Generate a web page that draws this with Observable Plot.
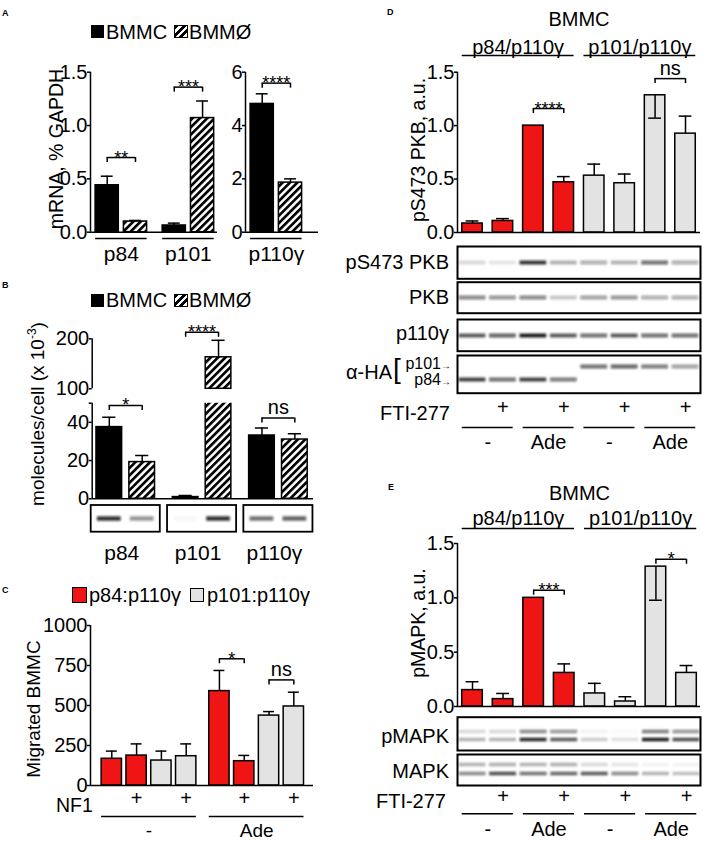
<!DOCTYPE html>
<html><head><meta charset="utf-8">
<script src="https://cdn.jsdelivr.net/npm/d3@7"></script>
<script src="https://cdn.jsdelivr.net/npm/@observablehq/plot@0.6"></script>
<style>
html,body{margin:0;padding:0;background:#fff;}
#fig{position:relative;width:703px;height:841px;overflow:hidden;font-family:"Liberation Sans",Arial,Helvetica,sans-serif;color:#000;background:#fff;}
#fig > svg{position:absolute;left:0;top:0;}
.lbl{position:absolute;white-space:nowrap;line-height:1;}
.lbl sup{font-size:12px;line-height:0;vertical-align:8px;}
.leg{position:absolute;display:flex;align-items:center;white-space:nowrap;font-size:20px;line-height:1;height:20px;}
.sw{display:inline-block;box-sizing:border-box;border:1.5px solid #000;}
</style></head><body><div id="fig"></div>
<script>
// ================= DATA =================
const cellTypes = ["BMMC", "BMMØ"];
const complexes = ["p84:p110γ", "p101:p110γ"];

// Panel A – mRNA, % GAPDH
const mrnaGene = ["p84", "p84", "p101", "p101", "p110γ", "p110γ"];
const mrnaCell = ["BMMC", "BMMØ", "BMMC", "BMMØ", "BMMC", "BMMØ"];
const mrnaMean = [0.44, 0.10, 0.063, 1.07, 4.81, 1.86];
const mrnaErr  = [0.085, 0.01, 0.022, 0.16, 0.38, 0.14];
const mrnaSigGene  = ["p84", "p101", "p110γ"];
const mrnaSigLabel = ["**", "***", "****"];
const mrnaSigY     = [0.70, 1.36, 5.59];
const mrnaTicksLow  = [0, 0.5, 1.0, 1.5];
const mrnaTicksHigh = [0, 2, 4, 6];

// Panel B – molecules/cell (x 10^-3)
const molGene = ["p84", "p84", "p101", "p101", "p110γ", "p110γ"];
const molCell = ["BMMC", "BMMØ", "BMMC", "BMMØ", "BMMC", "BMMØ"];
const molMean = [37.5, 19.2, 0.9, 163, 33.1, 31.0];
const molErr  = [5.2, 3.4, 0.8, 34, 3.9, 3.0];
const molBlot = [0.85, 0.45, 0.03, 0.85, 0.6, 0.65];
const molSigGene  = ["p84", "p101", "p110γ"];
const molSigLabel = ["*", "****", "ns"];
const molSigY     = [48.8, 213, 42.3];
const molTicksLow  = [0, 20, 40, 50];
const molTicksHigh = [100, 200];

// Panel C – Migrated BMMC
const migComplex = ["p84:p110γ", "p84:p110γ", "p101:p110γ", "p101:p110γ", "p84:p110γ", "p84:p110γ", "p101:p110γ", "p101:p110γ"];
const migStim = ["-", "-", "-", "-", "Ade", "Ade", "Ade", "Ade"];
const migNF1  = ["", "+", "", "+", "", "+", "", "+"];
const migMean = [167, 187, 156, 183, 590, 152, 437, 494];
const migErr  = [48, 73, 59, 77, 129, 36, 25, 89];
const migSigA = [4, 6];
const migSigB = [5, 7];
const migSigLabel = ["*", "ns"];
const migSigY = [792, 660];
const migTicks = [0, 250, 500, 750, 1000];

// Panel D – pS473 PKB
const pkbTitle = "BMMC";
const pkbComplex = ["p84/p110γ", "p84/p110γ", "p84/p110γ", "p84/p110γ", "p101/p110γ", "p101/p110γ", "p101/p110γ", "p101/p110γ"];
const pkbStim = ["-", "-", "Ade", "Ade", "-", "-", "Ade", "Ade"];
const pkbFTI  = ["", "+", "", "+", "", "+", "", "+"];
const pkbMean = [0.084, 0.108, 1.0, 0.47, 0.532, 0.461, 1.284, 0.925];
const pkbErr  = [0.024, 0.022, 0, 0.053, 0.108, 0.086, -0.214, 0.164];
const pkbSigA = [2, 6];
const pkbSigB = [3, 7];
const pkbSigLabel = ["****", "ns"];
const pkbSigY = [1.16, 1.44];
const pkbTicks = [0, 0.5, 1.0, 1.5];
const blotPS473 = [0.15, 0.10, 0.85, 0.30, 0.35, 0.30, 0.60, 0.35];
const blotPKB   = [0.50, 0.45, 0.50, 0.22, 0.40, 0.45, 0.35, 0.35];
const blotP110  = [0.70, 0.65, 0.95, 0.70, 0.60, 0.70, 0.60, 0.60];
const blotHA101 = [0, 0, 0, 0, 0.60, 0.65, 0.55, 0.40];
const blotHA84  = [0.80, 0.60, 0.80, 0.55, 0, 0, 0, 0];

// Panel E – pMAPK
const mapkTitle = "BMMC";
const mapkComplex = ["p84/p110γ", "p84/p110γ", "p84/p110γ", "p84/p110γ", "p101/p110γ", "p101/p110γ", "p101/p110γ", "p101/p110γ"];
const mapkStim = ["-", "-", "Ade", "Ade", "-", "-", "Ade", "Ade"];
const mapkFTI  = ["", "+", "", "+", "", "+", "", "+"];
const mapkMean = [0.151, 0.068, 1.0, 0.309, 0.12, 0.046, 1.287, 0.309];
const mapkErr  = [0.077, 0.052, 0, 0.083, 0.093, 0.044, -0.309, 0.068];
const mapkSigA = [2, 6];
const mapkSigB = [3, 7];
const mapkSigLabel = ["***", "*"];
const mapkSigY = [1.07, 1.355];
const mapkTicks = [0, 0.5, 1.0, 1.5];
const blotPMAPKup  = [0.15, 0.15, 0.50, 0.45, 0.05, 0.02, 0.55, 0.45];
const blotPMAPKlow = [0.30, 0.30, 0.90, 0.70, 0.20, 0.12, 0.95, 0.75];
const blotMAPKup   = [0.30, 0.35, 0.30, 0.35, 0.15, 0.10, 0.05, 0.05];
const blotMAPKlow  = [0.50, 0.75, 0.60, 0.65, 0.70, 0.50, 0.30, 0.25];

// ================= HELPERS =================
const W = 703, H = 841, SW = 1.5;
const FONT = '"Liberation Sans", Arial, Helvetica, sans-serif';
const RED = "#f01515", GREY = "#e3e3e3";
const HATCH_CSS = "repeating-linear-gradient(135deg,#000 0 2.6px,#fff 2.6px 5.2px)";
const fig = document.getElementById("fig");

const defs = d3.select(fig).append("svg").attr("width", 0).attr("height", 0).append("defs");
const pat = defs.append("pattern").attr("id", "hatch").attr("patternUnits", "userSpaceOnUse")
  .attr("width", 5.2).attr("height", 5.2).attr("patternTransform", "rotate(45)");
pat.append("rect").attr("width", 5.2).attr("height", 5.2).attr("fill", "#fff");
pat.append("rect").attr("width", 2.7).attr("height", 5.2).attr("fill", "#000");
defs.append("filter").attr("id", "blur").attr("filterUnits", "userSpaceOnUse")
  .attr("x", 0).attr("y", 0).attr("width", W).attr("height", H)
  .append("feGaussianBlur").attr("stdDeviation", 1.2);

function plotAt(box, opts) {
  const [x0, x1, y0, y1] = box;
  const svg = Plot.plot({
    width: W, height: H,
    marginLeft: x0, marginRight: W - x1, marginTop: y0, marginBottom: H - y1,
    style: {background: "transparent", fontFamily: FONT, fontSize: "20px", color: "black", overflow: "visible"},
    ...opts
  });
  svg.querySelectorAll('[aria-description="band"]').forEach(g => g.setAttribute("filter", "url(#blur)"));
  fig.appendChild(svg);
  return svg;
}
function layout(x0, x1, cx0, step, half, cap) {
  return {x0, x1, half, cap, domain: [(x0 - cx0) / step, (x1 - cx0) / step]};
}
function rowsFrom(cols, groupKey, gap, fillOf) {
  const keys = Object.keys(cols), n = cols[keys[0]].length;
  let g = -1, prev;
  return d3.range(n).map(i => {
    const r = {};
    keys.forEach(k => r[k] = cols[k][i]);
    if (r[groupKey] !== prev) { g++; prev = r[groupKey]; }
    r.slot = i + g * gap;
    r.fill = fillOf(r);
    return r;
  });
}
function pick(cols, keep) {
  const out = {};
  for (const k in cols) out[k] = cols[k].filter((_, i) => keep(i));
  return out;
}
function spansOf(rows, key, half) {
  const out = [];
  rows.forEach(r => {
    const last = out[out.length - 1];
    if (last && last.label === r[key]) last.to = r.slot;
    else out.push({label: r[key], from: r.slot, to: r.slot});
  });
  out.forEach(s => { s.x1 = s.from - half; s.x2 = s.to + half; s.mid = (s.from + s.to) / 2; });
  return out;
}
function barMarks(rows, L, {clip = false, base = 0} = {}) {
  const fills = [...new Set(rows.map(d => d.fill))];
  const err = rows.filter(d => d.err);
  return [
    ...fills.map(f => Plot.rectY(rows.filter(d => d.fill === f), {
      x1: d => d.slot - L.half, x2: d => d.slot + L.half, y1: base, y2: "mean",
      fill: f, stroke: "black", strokeWidth: SW, clip})),
    Plot.ruleX(err, {x: "slot", y1: "mean", y2: d => d.mean + d.err, stroke: "black", strokeWidth: SW, clip}),
    Plot.ruleY(err, {x1: d => d.slot - L.cap, x2: d => d.slot + L.cap, y: d => d.mean + d.err, stroke: "black", strokeWidth: SW, clip})
  ];
}
function yAxisMarks(L, ticks, fmt, y1, y2) {
  return [
    Plot.axisY({ticks, tickFormat: fmt, tickSize: 3, tickPadding: 0, fontSize: 20, strokeWidth: SW, label: null}),
    Plot.ruleX([L.domain[0]], {y1, y2, strokeWidth: SW})
  ];
}
function sigByGroup(rows, key, groups, labels, ys) {
  return groups.map((g, i) => {
    const rs = rows.filter(r => r[key] === g);
    return rs.length ? {xa: rs[0].slot, xb: rs[rs.length - 1].slot, label: labels[i], y: ys[i]} : null;
  }).filter(Boolean);
}
function sigByIndex(rows, A, B, labels, ys) {
  return A.map((a, i) => ({xa: rows[a].slot, xb: rows[B[i]].slot, label: labels[i], y: ys[i]}));
}
function bracketMarks(sigs) {
  const stars = sigs.filter(s => s.label !== "ns"), ns = sigs.filter(s => s.label === "ns");
  return [
    Plot.ruleY(sigs, {x1: "xa", x2: "xb", y: "y", strokeWidth: SW}),
    Plot.ruleX(sigs, {x: "xa", y1: "y", y2: "y", insetBottom: -5, strokeWidth: SW}),
    Plot.ruleX(sigs, {x: "xb", y1: "y", y2: "y", insetBottom: -5, strokeWidth: SW}),
    Plot.text(stars, {x: s => (s.xa + s.xb) / 2, y: "y", text: "label", fontSize: 18, lineAnchor: "bottom", dy: 6}),
    Plot.text(ns, {x: s => (s.xa + s.xb) / 2, y: "y", text: "label", fontSize: 20, lineAnchor: "bottom", dy: -4})
  ];
}
function groupLabels(spans, dyLine, dyText, lineAnchor = "top", fontSize = 20) {
  return [
    Plot.ruleY(spans, {x1: "x1", x2: "x2", y: 0, dy: dyLine, strokeWidth: SW}),
    Plot.text(spans, {x: "mid", text: "label", frameAnchor: "bottom", lineAnchor, dy: dyText, fontSize})
  ];
}
function topLabels(rows, L, ymax, title, dyTitle, dyLab, dyLine) {
  const cs = spansOf(rows, "complex", L.half);
  const all = d3.mean(rows, r => r.slot);
  return [
    Plot.text([title], {x: all, text: d => d, frameAnchor: "top", dy: dyTitle, fontSize: 20}),
    Plot.text(cs, {x: "mid", text: "label", frameAnchor: "top", dy: dyLab, fontSize: 20}),
    Plot.ruleY(cs, {x1: "x1", x2: "x2", y: ymax, dy: dyLine, strokeWidth: SW})
  ];
}
function ftiLabels(rows, L, dyPlus, dyLine, dyText) {
  return [
    Plot.text(rows.filter(r => r.fti), {x: "slot", text: "fti", frameAnchor: "bottom", dy: dyPlus, fontSize: 20}),
    ...groupLabels(spansOf(rows, "stim", L.half), dyLine, dyText, "middle")
  ];
}
function blot(L, box, rowNames, series, rows, {half = 0.44, w = 4, padding = 1, align = 0.5} = {}) {
  const bands = [];
  series.forEach((vals, k) => vals.forEach((v, i) => { if (v > 0) bands.push({slot: rows[i].slot, row: rowNames[k], v}); }));
  plotAt(box, {
    x: {domain: L.domain, axis: null},
    y: {type: "point", domain: rowNames, padding: rowNames.length > 1 ? padding : 0.5, align, axis: null},
    opacity: {domain: [0, 1]},
    marks: [
      Plot.ruleY(bands, {x1: d => d.slot - half, x2: d => d.slot + half, y: "row", stroke: "#111",
        strokeOpacity: "v", strokeWidth: w, ariaDescription: "band"}),
      Plot.frame({stroke: "black", strokeWidth: 2})
    ]
  });
}
function label(html, x, y, {size = 20, anchor = "start", rotate = 0, weight = "normal"} = {}) {
  const d = document.createElement("div");
  d.className = "lbl"; d.innerHTML = html;
  Object.assign(d.style, {left: x + "px", top: y + "px", fontSize: size + "px", fontWeight: weight});
  const tx = anchor === "start" ? "0%" : anchor === "middle" ? "-50%" : "-100%";
  d.style.transform = `translate(${tx},-50%)` + (rotate ? ` rotate(${rotate}deg)` : "");
  fig.appendChild(d);
}
function legend(x, yc, items) {
  const d = document.createElement("div");
  d.className = "leg"; d.style.left = x + "px"; d.style.top = (yc - 10) + "px";
  items.forEach(it => {
    const s = document.createElement("span"); s.className = "sw";
    Object.assign(s.style, {width: it.w + "px", height: it.h + "px", background: it.bg,
      marginLeft: (it.ml || 0) + "px", marginRight: (it.mr ?? 2) + "px"});
    d.appendChild(s);
    const t = document.createElement("span"); t.textContent = it.text; d.appendChild(t);
  });
  fig.appendChild(d);
}
const cellFill = r => r.cell === "BMMC" ? "black" : "url(#hatch)";
const complexFill = r => r.complex.startsWith("p84") ? RED : GREY;

// ================= PANEL A =================
const LA1 = layout(90, 217, 106.7, 28.3, 0.41, 0.21);
const LA2 = layout(245, 318, 261.7, 28.3, 0.41, 0.21);
const aCols = {gene: mrnaGene, cell: mrnaCell, mean: mrnaMean, err: mrnaErr};
const aL = rowsFrom(pick(aCols, i => mrnaGene[i] !== "p110γ"), "gene", 0.37, cellFill);
const aR = rowsFrom(pick(aCols, i => mrnaGene[i] === "p110γ"), "gene", 0.37, cellFill);
plotAt([LA1.x0, LA1.x1, 71.7, 231.7], {
  x: {domain: LA1.domain, axis: null}, y: {domain: [0, 1.5], label: null},
  marks: [
    ...barMarks(aL, LA1),
    ...yAxisMarks(LA1, mrnaTicksLow, d3.format(".1f"), 0, 1.5),
    Plot.ruleY([0], {strokeWidth: SW}),
    ...bracketMarks(sigByGroup(aL, "gene", mrnaSigGene, mrnaSigLabel, mrnaSigY)),
    ...groupLabels(spansOf(aL, "gene", LA1.half), 6.3, 14, "top", 21)
  ]
});
plotAt([LA2.x0, LA2.x1, 71.7, 231.7], {
  x: {domain: LA2.domain, axis: null}, y: {domain: [0, 6], label: null},
  marks: [
    ...barMarks(aR, LA2),
    ...yAxisMarks(LA2, mrnaTicksHigh, d3.format("d"), 0, 6),
    Plot.ruleY([0], {strokeWidth: SW}),
    ...bracketMarks(sigByGroup(aR, "gene", mrnaSigGene, mrnaSigLabel, mrnaSigY)),
    ...groupLabels(spansOf(aR, "gene", LA2.half), 6.3, 14, "top", 21)
  ]
});

// ================= PANEL B =================
const LB = layout(91.7, 313, 108.8, 32.9, 0.39, 0.2);
const bRows = rowsFrom({gene: molGene, cell: molCell, mean: molMean, err: molErr, band: molBlot}, "gene", 0.32, cellFill);
const bSig = sigByGroup(bRows, "gene", molSigGene, molSigLabel, molSigY);
const molBreak = molTicksHigh[0], molTop = molTicksLow[molTicksLow.length - 1];
plotAt([LB.x0, LB.x1, 338.3, 388.3], {
  x: {domain: LB.domain, axis: null}, y: {domain: [molBreak, molTicksHigh[1]], label: null},
  marks: [
    ...barMarks(bRows.filter(r => r.mean > molBreak), LB, {base: molBreak}),
    ...yAxisMarks(LB, molTicksHigh, d3.format("d"), molBreak, molTicksHigh[1]),
    ...bracketMarks(bSig.filter(s => s.y > molBreak))
  ]
});
plotAt([LB.x0, LB.x1, 402.7, 498.3], {
  x: {domain: LB.domain, axis: null}, y: {domain: [0, molTop], label: null},
  marks: [
    ...barMarks(bRows, LB, {clip: true}),
    ...yAxisMarks(LB, molTicksLow, d => d === molTop ? "" : String(d), 0, molTop),
    Plot.ruleY([0], {strokeWidth: SW}),
    ...bracketMarks(bSig.filter(s => s.y <= molTop))
  ]
});
const bGenes = spansOf(bRows, "gene", LB.half);
plotAt([LB.x0, LB.x1, 505, 531.7], {
  x: {domain: LB.domain, axis: null},
  y: {type: "point", domain: ["band"], axis: null},
  opacity: {domain: [0, 1]},
  marks: [
    Plot.ruleY(bRows.filter(r => r.band > 0), {x1: r => r.slot - 0.36, x2: r => r.slot + 0.36, y: () => "band",
      stroke: "#111", strokeOpacity: "band", strokeWidth: 4.5, ariaDescription: "band"}),
    Plot.rect(bGenes, {x1: s => s.x1 - 0.16, x2: s => s.x2 + 0.16, fill: "none", stroke: "black", strokeWidth: 1.8}),
    Plot.text(bGenes, {x: "mid", text: "label", frameAnchor: "bottom", lineAnchor: "top", dy: 13.3, dx: -4, fontSize: 21})
  ]
});

// ================= PANEL C =================
const LC = layout(90, 313, 111.3, 24.8, 0.41, 0.22);
const cRows = rowsFrom({complex: migComplex, stim: migStim, nf1: migNF1, mean: migMean, err: migErr}, "stim", 0.34, complexFill);
plotAt([LC.x0, LC.x1, 625, 785], {
  x: {domain: LC.domain, axis: null}, y: {domain: [0, 1000], label: null},
  marks: [
    ...barMarks(cRows, LC),
    ...yAxisMarks(LC, migTicks, d3.format("d"), 0, 1000),
    Plot.ruleY([0], {strokeWidth: SW}),
    ...bracketMarks(sigByIndex(cRows, migSigA, migSigB, migSigLabel, migSigY)),
    Plot.text(cRows.filter(r => r.nf1), {x: "slot", text: "nf1", frameAnchor: "bottom", dy: 19, fontSize: 20}),
    ...groupLabels(spansOf(cRows, "stim", LC.half), 31, 45.5, "middle", 19)
  ]
});

// ================= PANEL D =================
const LD = layout(457, 700, 472, 30.43, 0.337, 0.21);
const dRows = rowsFrom({complex: pkbComplex, stim: pkbStim, fti: pkbFTI, mean: pkbMean, err: pkbErr}, "complex", 0, complexFill);
plotAt([LD.x0, LD.x1, 71.7, 232], {
  x: {domain: LD.domain, axis: null}, y: {domain: [0, 1.5], label: null},
  marks: [
    ...barMarks(dRows, LD),
    ...yAxisMarks(LD, pkbTicks, d3.format(".1f"), 0, 1.5),
    Plot.ruleY([0], {strokeWidth: SW}),
    ...bracketMarks(sigByIndex(dRows, pkbSigA, pkbSigB, pkbSigLabel, pkbSigY)),
    ...topLabels(dRows, LD, 1.5, pkbTitle, -60.5, -32, -16.7),
    ...ftiLabels(dRows, LD, 181, 195, 210)
  ]
});
blot(LD, [457, 700, 246, 278.3], ["pS473"], [blotPS473], dRows);
blot(LD, [457, 700, 281.7, 312.7], ["PKB"], [blotPKB], dRows);
blot(LD, [457, 700, 319, 350.7], ["p110"], [blotP110], dRows);
blot(LD, [457, 700, 355, 392.7], ["p101", "p84"], [blotHA101, blotHA84], dRows, {padding: 0.9, align: 0.45});

// ================= PANEL E =================
const LE = layout(457, 700, 472, 30.57, 0.337, 0.21);
const eRows = rowsFrom({complex: mapkComplex, stim: mapkStim, fti: mapkFTI, mean: mapkMean, err: mapkErr}, "complex", 0, complexFill);
plotAt([LE.x0, LE.x1, 543, 706], {
  x: {domain: LE.domain, axis: null}, y: {domain: [0, 1.5], label: null},
  marks: [
    ...barMarks(eRows, LE),
    ...yAxisMarks(LE, mapkTicks, d3.format(".1f"), 0, 1.5),
    Plot.ruleY([0], {strokeWidth: SW}),
    ...bracketMarks(sigByIndex(eRows, mapkSigA, mapkSigB, mapkSigLabel, mapkSigY)),
    ...topLabels(eRows, LE, 1.5, mapkTitle, -58, -33, -15),
    ...ftiLabels(eRows, LE, 96, 107.3, 123)
  ]
});
blot(LE, [457, 700, 716.7, 750], ["up", "low"], [blotPMAPKup, blotPMAPKlow], eRows, {w: 3.5, padding: 1.42, align: 0.57});
blot(LE, [457, 700, 754, 785], ["up", "low"], [blotMAPKup, blotMAPKlow], eRows, {w: 3.5, padding: 1.17, align: 0.46});

// ================= TEXT LABELS & LEGENDS =================
label("A", 2, 12.5, {size: 9, weight: "bold"});
label("B", 2, 285, {size: 9, weight: "bold"});
label("C", 2, 590, {size: 9, weight: "bold"});
label("D", 387, 11.7, {size: 9, weight: "bold"});
label("E", 388, 487, {size: 9, weight: "bold"});

label("mRNA, % GAPDH", 56.5, 149, {anchor: "middle", rotate: -90, size: 19.5});
label("molecules/cell (x 10<sup>-3</sup>)", 37, 414, {anchor: "middle", rotate: -90, size: 19});
label("Migrated BMMC", 33, 709, {anchor: "middle", rotate: -90, size: 19});
label("pS473 PKB, a.u.", 418.5, 150, {anchor: "middle", rotate: -90, size: 19.5});
label("pMAPK, a.u.", 418.5, 623, {anchor: "middle", rotate: -90, size: 19.5});

label("pS473 PKB", 449, 262, {anchor: "end"});
label("PKB", 449, 296.7, {anchor: "end"});
label("p110γ", 449, 332.5, {anchor: "end"});
label("α-HA", 392, 371.7, {anchor: "end"});
label("[", 393, 369, {size: 28});
label('p101<span style="font-size:10px">&#8594;</span>', 451, 364, {size: 16, anchor: "end"});
label('p84<span style="font-size:10px">&#8594;</span>', 451, 380, {size: 16, anchor: "end"});
label("FTI-277", 450, 412.5, {anchor: "end"});
label("pMAPK", 449, 735.5, {anchor: "end"});
label("MAPK", 449, 771, {anchor: "end"});
label("FTI-277", 446, 801, {anchor: "end"});
label("NF1", 56, 806, {size: 19.5});

legend(91, 31.5, [{w: 13, h: 13, bg: "#000", text: cellTypes[0], mr: 2}, {w: 14, h: 13, bg: HATCH_CSS, text: cellTypes[1], ml: 7, mr: 1}]);
legend(91, 300, [{w: 13, h: 13, bg: "#000", text: cellTypes[0], mr: 2}, {w: 14, h: 13, bg: HATCH_CSS, text: cellTypes[1], ml: 7, mr: 1}]);
legend(72, 595, [{w: 15, h: 16, bg: RED, text: complexes[0], mr: 2}, {w: 14, h: 14, bg: GREY, text: complexes[1], ml: 9, mr: 3}]);
</script></body></html>
